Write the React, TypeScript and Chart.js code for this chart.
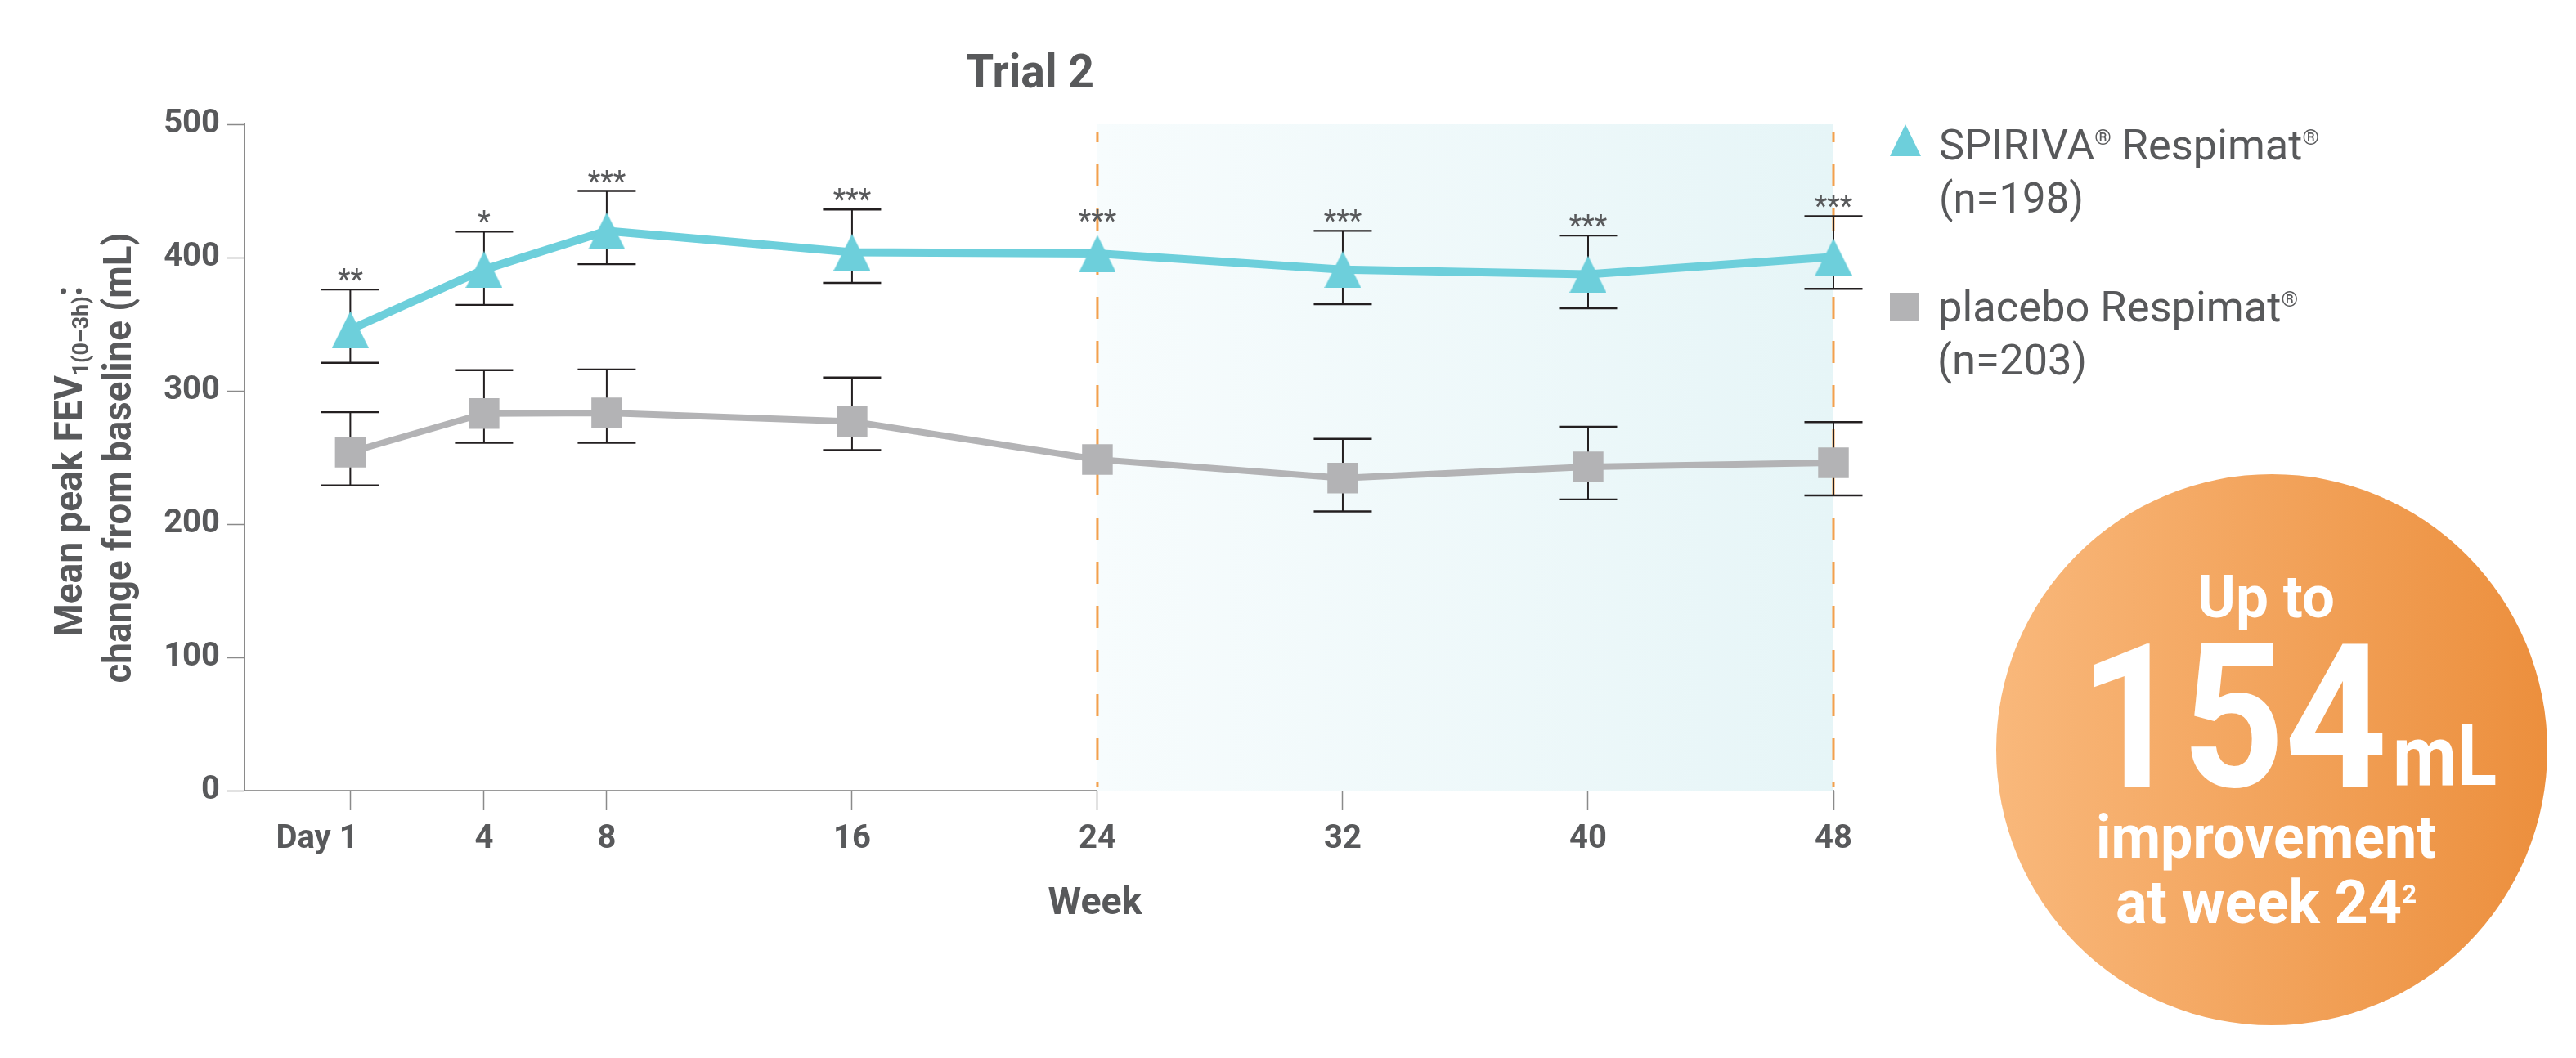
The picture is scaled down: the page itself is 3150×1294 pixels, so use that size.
import { useEffect, useRef } from 'react';
import { Chart, registerables } from 'chart.js';

Chart.register(...registerables);

// x positions on a week axis; "Day 1" sits just left of week 0 in the original layout
const weekLabels = ['Day 1', '4', '8', '16', '24', '32', '40', '48'];
const weekPositions = [-0.36, 4, 8, 16, 24, 32, 40, 48];
const yTicks = [0, 100, 200, 300, 400, 500];

const spirivaMean = [346, 391, 420, 404, 403, 391, 387.5, 400.5];
const spirivaUpper = [376, 419.5, 450, 436, null, 420, 416.5, 431];
const spirivaLower = [321, 364.5, 395, 381, null, 365, 362, 376.5];

const placeboMean = [254, 283, 283.5, 277, 248.5, 234.5, 243, 246];
const placeboUpper = [284, 315.5, 316, 310, null, 264, 273, 276.5];
const placeboLower = [229, 261, 261, 255.5, null, 209.5, 218.5, 221.5];

const significance = ['**', '*', '***', '***', '***', '***', '***', '***'];

// highlighted period (weeks)
const shadeFrom = 24;
const shadeTo = 48;

const FONT = 'Roboto, "Noto Sans", sans-serif';
const INK = '#58595b';
const CYAN = '#6dcfdb';
const GREY = '#b3b3b5';
const ORANGE = '#f3a04d';

type Seg = { text: string; size: number; weight?: string; dy?: number };

function drawRich(ctx: CanvasRenderingContext2D, segs: Seg[], x: number, y: number, align: 'left' | 'center', width: number, color: string) {
  const widths = segs.map((s) => {
    ctx.font = `${s.weight || '400'} ${s.size}px ${FONT}`;
    return ctx.measureText(s.text).width;
  });
  const total = widths.reduce((a, b) => a + b, 0);
  ctx.save();
  ctx.translate(x, y);
  ctx.scale(width / total, 1);
  ctx.fillStyle = color;
  ctx.textAlign = 'left';
  ctx.textBaseline = 'alphabetic';
  let cx = align === 'center' ? -total / 2 : 0;
  segs.forEach((s, i) => {
    ctx.font = `${s.weight || '400'} ${s.size}px ${FONT}`;
    ctx.fillText(s.text, cx, s.dy || 0);
    cx += widths[i];
  });
  ctx.restore();
}

function makeTriangle(w: number, h: number, color: string) {
  const c = document.createElement('canvas');
  c.width = w;
  c.height = h;
  const g = c.getContext('2d')!;
  g.fillStyle = color;
  g.beginPath();
  g.moveTo(w / 2, 0);
  g.lineTo(w, h);
  g.lineTo(0, h);
  g.closePath();
  g.fill();
  return c;
}

function errorBars(ctx: CanvasRenderingContext2D, x: any, y: any, upper: (number | null)[], lower: (number | null)[]) {
  weekPositions.forEach((w, i) => {
    const hi = upper[i];
    const lo = lower[i];
    if (hi == null || lo == null) return;
    const px = x.getPixelForValue(w);
    const yHi = y.getPixelForValue(hi);
    const yLo = y.getPixelForValue(lo);
    ctx.lineWidth = 2;
    ctx.beginPath();
    ctx.moveTo(px, yHi);
    ctx.lineTo(px, yLo);
    ctx.stroke();
    ctx.lineWidth = 2.4;
    ctx.beginPath();
    ctx.moveTo(px - 35.5, yHi);
    ctx.lineTo(px + 35.5, yHi);
    ctx.moveTo(px - 35.5, yLo);
    ctx.lineTo(px + 35.5, yLo);
    ctx.stroke();
  });
}

const overlayPlugin = {
  id: 'overlay',
  beforeDatasetsDraw(chart: any) {
    const { ctx, scales } = chart;
    const { x, y } = scales;
    const x0 = x.getPixelForValue(shadeFrom);
    const x1 = x.getPixelForValue(shadeTo);
    const yTop = y.getPixelForValue(500);
    const yBot = y.getPixelForValue(0);
    ctx.save();
    const g = ctx.createLinearGradient(x0, 0, x1, 0);
    g.addColorStop(0, '#f7fcfd');
    g.addColorStop(1, '#e6f5f7');
    ctx.fillStyle = g;
    ctx.fillRect(x0, yTop, x1 - x0, yBot - yTop);

    ctx.strokeStyle = ORANGE;
    ctx.lineWidth = 3;
    ctx.setLineDash([27, 27]);
    ctx.lineDashOffset = 15;
    [x0, x1].forEach((px) => {
      ctx.beginPath();
      ctx.moveTo(px, yTop + 10);
      ctx.lineTo(px, yBot - 4);
      ctx.stroke();
    });
    ctx.setLineDash([]);

    ctx.strokeStyle = '#231f20';
    errorBars(ctx, x, y, spirivaUpper, spirivaLower);
    errorBars(ctx, x, y, placeboUpper, placeboLower);
    ctx.restore();
  },
  afterDatasetsDraw(chart: any) {
    const { ctx, scales } = chart;
    const { x, y } = scales;
    ctx.save();
    ctx.fillStyle = INK;
    ctx.font = `400 36px ${FONT}`;
    ctx.textAlign = 'center';
    ctx.textBaseline = 'alphabetic';
    significance.forEach((s, i) => {
      const anchor = spirivaUpper[i] ?? spirivaMean[i] + 17;
      ctx.fillText(s, x.getPixelForValue(weekPositions[i]), y.getPixelForValue(anchor));
    });
    ctx.restore();
  },
  afterDraw(chart: any) {
    const { ctx } = chart;
    ctx.save();

    // title and axis titles
    drawRich(ctx, [{ text: 'Trial 2', size: 58, weight: '700' }], 1259.5, 107, 'center', 157, INK);
    drawRich(ctx, [{ text: 'Week', size: 46, weight: '700' }], 1339, 1118, 'center', 115, INK);

    ctx.save();
    ctx.translate(100, 564);
    ctx.rotate(-Math.PI / 2);
    drawRich(
      ctx,
      [
        { text: 'Mean peak FEV', size: 48, weight: '700' },
        { text: '1(0–3h)', size: 28, weight: '700', dy: 8 },
        { text: ':', size: 48, weight: '700' },
      ],
      0, 0, 'center', 429, INK,
    );
    ctx.restore();
    ctx.save();
    ctx.translate(159.5, 560);
    ctx.rotate(-Math.PI / 2);
    drawRich(ctx, [{ text: 'change from baseline (mL)', size: 48, weight: '700' }], 0, 0, 'center', 551, INK);
    ctx.restore();

    // legend
    ctx.fillStyle = CYAN;
    ctx.beginPath();
    ctx.moveTo(2330, 152);
    ctx.lineTo(2349, 191);
    ctx.lineTo(2311, 191);
    ctx.closePath();
    ctx.fill();
    ctx.fillStyle = GREY;
    ctx.fillRect(2311, 358, 35, 34);

    drawRich(
      ctx,
      [
        { text: 'SPIRIVA', size: 52 },
        { text: '®', size: 26, dy: -18 },
        { text: ' Respimat', size: 52 },
        { text: '®', size: 26, dy: -18 },
      ],
      2371, 195, 'left', 465, INK,
    );
    drawRich(ctx, [{ text: '(n=198)', size: 52 }], 2371, 260, 'left', 177, INK);
    drawRich(
      ctx,
      [
        { text: 'placebo Respimat', size: 52 },
        { text: '®', size: 26, dy: -18 },
      ],
      2370, 393, 'left', 440, INK,
    );
    drawRich(ctx, [{ text: '(n=203)', size: 52 }], 2369, 458, 'left', 183, INK);

    // callout circle
    const cx = 2778;
    const cy = 917;
    const r = 337;
    const cg = ctx.createLinearGradient(cx - r, 0, cx + r, 0);
    cg.addColorStop(0, '#f9b87b');
    cg.addColorStop(1, '#ec8f3d');
    ctx.fillStyle = cg;
    ctx.beginPath();
    ctx.arc(cx, cy, r, 0, Math.PI * 2);
    ctx.fill();

    drawRich(ctx, [{ text: 'Up to', size: 72, weight: '700' }], 2771, 755, 'center', 168, '#fff');
    drawRich(ctx, [{ text: '154', size: 245, weight: '700' }], 2543, 962, 'left', 376, '#fff');
    drawRich(ctx, [{ text: 'mL', size: 104, weight: '700' }], 2926, 960, 'left', 127, '#fff');
    drawRich(ctx, [{ text: 'improvement', size: 74, weight: '700' }], 2563, 1049, 'left', 416, '#fff');
    drawRich(
      ctx,
      [
        { text: 'at week 24', size: 74, weight: '700' },
        { text: '2', size: 32, weight: '700', dy: -25 },
      ],
      2587, 1129, 'left', 368, '#fff',
    );

    ctx.restore();
  },
};

export default function App() {
  const canvasRef = useRef<HTMLCanvasElement | null>(null);

  useEffect(() => {
    if (!canvasRef.current) {
      return;
    }

    const triangle = makeTriangle(45, 45, CYAN);

    const chart = new Chart(canvasRef.current, {
      type: 'line',
      data: {
        datasets: [
          {
            label: 'SPIRIVA® Respimat® (n=198)',
            data: weekPositions.map((w, i) => ({ x: w, y: spirivaMean[i] })),
            borderColor: CYAN,
            borderWidth: 10,
            pointStyle: triangle as any,
            pointRadius: 23,
            pointBackgroundColor: CYAN,
            pointBorderWidth: 0,
            clip: false as any,
          },
          {
            label: 'placebo Respimat® (n=203)',
            data: weekPositions.map((w, i) => ({ x: w, y: placeboMean[i] })),
            borderColor: GREY,
            borderWidth: 8,
            pointStyle: 'rect',
            pointRadius: 26.5,
            pointBackgroundColor: GREY,
            pointBorderWidth: 0,
            clip: false as any,
          },
        ],
      },
      options: {
        animation: false,
        responsive: true,
        maintainAspectRatio: false,
        events: [],
        layout: { padding: { left: 0, top: 152, right: 908, bottom: 227 } },
        plugins: {
          legend: { display: false },
          tooltip: { enabled: false },
        },
        scales: {
          x: {
            type: 'linear',
            min: -3.81,
            max: 48,
            afterBuildTicks: (s: any) => {
              s.ticks = weekPositions.map((v) => ({ value: v }));
            },
            afterFit: (s: any) => {
              s.height = 100;
            },
            ticks: {
              autoSkip: false,
              maxRotation: 0,
              padding: 12,
              color: INK,
              font: { family: FONT, size: 40, weight: 'bold' },
              callback: (v: any) => {
                const i = weekPositions.indexOf(Number(v));
                const label = weekLabels[i] ?? '';
                return i === 0 ? label + '\u2003\u2003' : label;
              },
            },
            grid: { drawOnChartArea: false, tickLength: 24, tickColor: '#8a8a8a', tickWidth: 1.5 },
            border: { color: '#9a9a9a', width: 2 },
          },
          y: {
            min: 0,
            max: 500,
            afterBuildTicks: (s: any) => {
              s.ticks = yTicks.map((v) => ({ value: v }));
            },
            afterFit: (s: any) => {
              s.width = 299;
            },
            ticks: {
              padding: 8,
              color: INK,
              font: { family: FONT, size: 40, weight: 'bold' },
            },
            grid: { drawOnChartArea: false, tickLength: 22, tickColor: '#8a8a8a', tickWidth: 1.5 },
            border: { color: '#8a8a8a', width: 1.5 },
          },
        },
      },
      plugins: [overlayPlugin],
    });

    return () => {
      chart.destroy();
    };
  }, []);

  return (
    <div style={{ position: 'fixed', left: 0, top: 0, width: 3150, height: 1294, background: '#fff' }}>
      <canvas ref={canvasRef} />
    </div>
  );
}
